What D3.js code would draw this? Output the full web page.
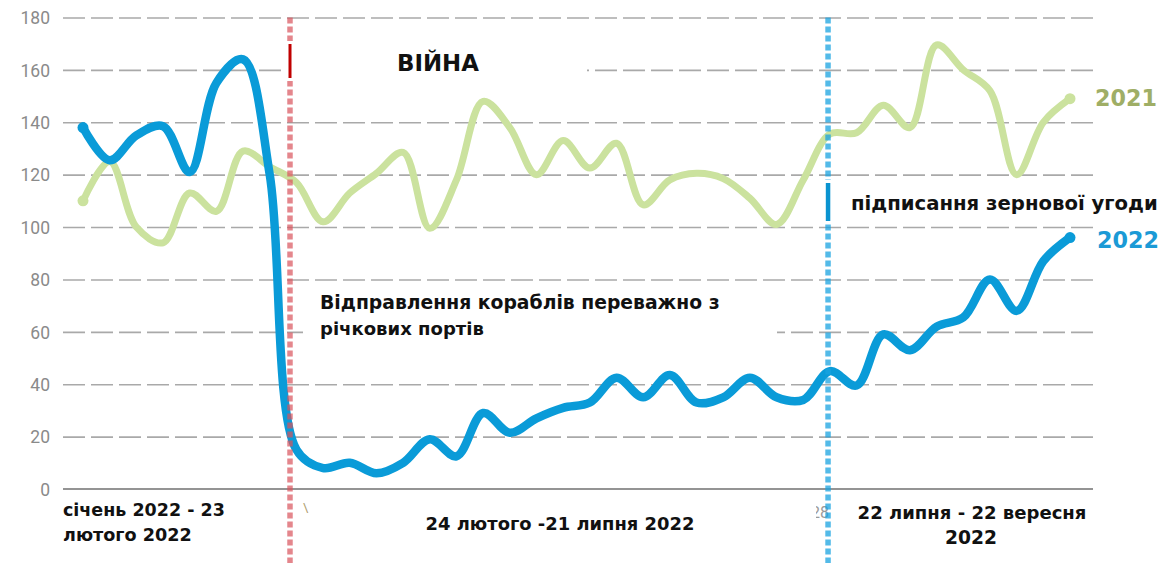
<!DOCTYPE html>
<html><head><meta charset="utf-8">
<script src="https://cdn.jsdelivr.net/npm/d3@7"></script>
<style>body{margin:0;background:#fff} svg{display:block;background:#fff}</style>
</head><body><svg id="c" width="1163" height="563"></svg>
<script>
// ---- data ----
const weeks = [1,2,3,4,5,6,7,8,9,10,11,12,13,14,15,16,17,18,19,20,21,22,23,24,25,26,27,28,29,30,31,32,33,34,35,36,37,38];
const values2021 = [110,125,100,94,113,106,129,123,117,102,113,120.5,128.5,99.5,118,148,138,120,133,122.5,132,108.5,118,120.5,118.5,111,101,118,135.5,136,146.5,138,169.5,160,152,120,140,149];
const values2022 = [138,125.5,135,138.5,121,155,164,120,15,8,10,6,10,19,12.5,29,21.5,27,31,33,42.5,35,43.5,33,35,42.5,35,34,45,39.5,59,53,62,65.5,80,68,87,96];
const yTicks = [0,20,40,60,80,100,120,140,160,180];
const seriesNames = ["2021","2022"];
const warWeek = 8.76;
const dealWeek = 28.93;
const warLabel = "ВІЙНА";
const riverLabel = ["Відправлення кораблів переважно з","річкових портів"];
const dealLabel = "підписання зернової угоди";
const period1 = ["січень 2022 - 23","лютого 2022"];
const period2 = ["24 лютого -21 липня 2022"];
const period3 = ["22 липня - 22 вересня","2022"];

// ---- layout ----
const svg = d3.select("#c");
const L = 63, R = 1093, T = 17.5, B = 489;
const x = d3.scaleLinear().domain([1, 38]).range([83, 1070]);
const y = d3.scaleLinear().domain([0, 180]).range([B, T]);

const green = "#cbe29e", blue = "#0a9bd8";
const FONT = "'DejaVu Sans', Verdana, sans-serif";

function fit(t, w) {
  const l = t.node().getComputedTextLength();
  const fs = parseFloat(t.attr("font-size"));
  t.attr("font-size", fs * w / l);
  return t;
}

// gridlines
const grid = svg.append("g").attr("transform", `translate(${L},0)`)
  .call(d3.axisLeft(y).tickValues(yTicks.filter(d => d > 0)).tickSize(-(R - L)).tickFormat(""));
grid.select(".domain").remove();
grid.selectAll("line").attr("stroke", "#a9a9a9").attr("stroke-width", 1.6).attr("stroke-dasharray", "22,6");

// y labels
const yax = svg.append("g").attr("transform", `translate(${L},0)`)
  .call(d3.axisLeft(y).tickValues(yTicks).tickSize(0).tickPadding(13));
yax.select(".domain").remove();
yax.selectAll("text").attr("font-family", "Roboto, sans-serif").attr("font-size", 17.5)
  .attr("fill", "#8a8a8a").attr("dy", "0.36em");

// x axis line
svg.append("line").attr("x1", L).attr("x2", R).attr("y1", y(0)).attr("y2", y(0))
  .attr("stroke", "#707070").attr("stroke-width", 1.6);

// white label backgrounds
svg.append("rect").attr("x", 293).attr("y", 36).attr("width", 294).attr("height", 62).attr("fill", "#fff");
svg.append("rect").attr("x", 303).attr("y", 290).attr("width", 474).attr("height", 55).attr("fill", "#fff");

// remnant tick labels
svg.append("text").attr("x", 303).attr("y", 512).attr("font-family", "Roboto, sans-serif")
  .attr("font-size", 13).attr("fill", "#b0a070").text("\\");
svg.append("clipPath").attr("id", "clip28").append("rect").attr("x", 816).attr("y", 495).attr("width", 20).attr("height", 30);
svg.append("text").attr("x", 829).attr("y", 518).attr("text-anchor", "end").attr("clip-path", "url(#clip28)")
  .attr("font-family", "Roboto, sans-serif").attr("font-size", 16).attr("fill", "#9a9a9a").text("28");

// lines
const line = d3.line().x((d, i) => x(weeks[i])).y(d => y(d)).curve(d3.curveCatmullRom.alpha(0.5));
const series = [
  {name: seriesNames[0], values: values2021, color: green, w: 7},
  {name: seriesNames[1], values: values2022, color: blue, w: 8.5}
];
series.forEach(s => {
  svg.append("path").datum(s.values).attr("d", line).attr("fill", "none")
    .attr("stroke", s.color).attr("stroke-width", s.w).attr("stroke-linejoin", "round").attr("stroke-linecap", "round");
  const ends = [0, s.values.length - 1];
  svg.selectAll(null).data(ends).enter().append("circle")
    .attr("cx", i => x(weeks[i])).attr("cy", i => y(s.values[i])).attr("r", 5.5).attr("fill", s.color);
});

// event lines
function eventLine(wk, color, op, solidColor, s0, s1) {
  const xx = x(wk);
  svg.append("line").attr("x1", xx).attr("x2", xx).attr("y1", T).attr("y2", 563)
    .attr("stroke", color).attr("stroke-opacity", op).attr("stroke-width", 5.5).attr("stroke-dasharray", "6,3");
  svg.append("rect").attr("x", xx - 4).attr("y", s0 - 3).attr("width", 8).attr("height", s1 - s0 + 6).attr("fill", "#fff");
  svg.append("line").attr("x1", xx).attr("x2", xx).attr("y1", s0).attr("y2", s1)
    .attr("stroke", solidColor).attr("stroke-width", solidColor === "#c00000" ? 3 : 4.5);
}
eventLine(warWeek, "#d9535b", 0.7, "#c00000", 44, 78);
eventLine(dealWeek, "#1aa3e0", 0.75, "#0a93d0", 183, 221);

// annotations
function label(txt, xp, yp, w, size, anchor, color) {
  const t = svg.append("text").attr("x", xp).attr("y", yp).attr("font-family", FONT)
    .attr("font-weight", "bold").attr("font-size", size).attr("fill", color || "#111")
    .attr("text-anchor", anchor || "start").attr("dominant-baseline", "central").text(txt);
  return fit(t, w);
}
label(warLabel, 438, 63, 82, 20, "middle");
label(riverLabel[0], 320, 302, 400, 15);
label(riverLabel[1], 320, 328, 164, 15);
label(dealLabel, 851, 203, 307, 15);
label(seriesNames[0], 1095, 98, 62, 19, "start", "#9fae66");
label(seriesNames[1], 1097, 240, 62, 19, "start", "#1b9ad6");
label(period1[0], 63, 510, 162, 16);
label(period1[1], 63, 535, 129, 16);
label(period2[0], 560, 523, 269, 16, "middle");
label(period3[0], 972, 512, 229, 16, "middle");
label(period3[1], 971, 537, 52, 16, "middle");
</script></body></html>
